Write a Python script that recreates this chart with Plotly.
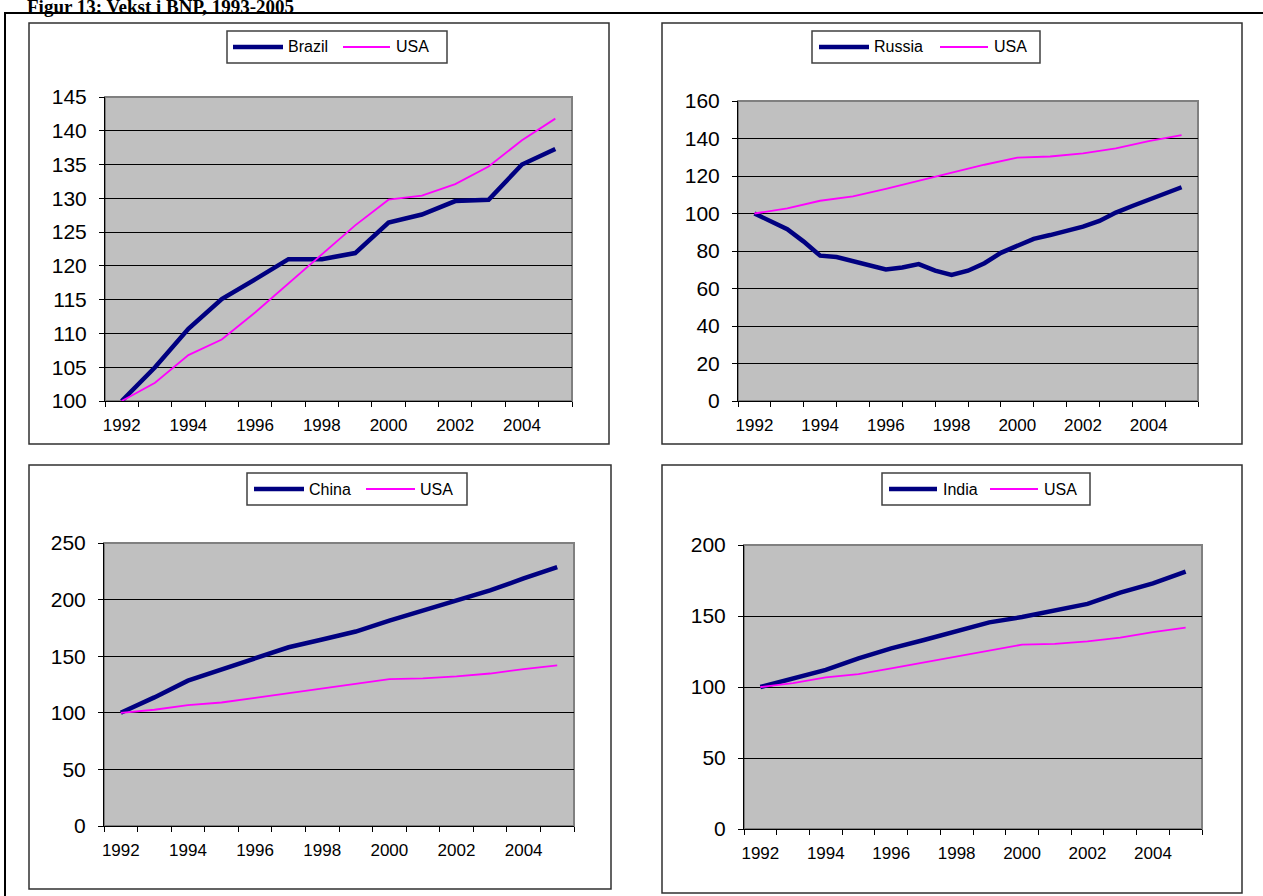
import plotly.graph_objects as go

# ---- data -------------------------------------------------------------
years = [1992, 1993, 1994, 1995, 1996, 1997, 1998, 1999, 2000, 2001, 2002, 2003, 2004, 2005]

usa = [100, 102.7, 106.8, 109.1, 113.1, 117.4, 121.6, 126.0, 129.8, 130.4, 132.1, 134.7, 138.6, 141.8]
brazil = [100, 105.0, 110.7, 115.1, 118.0, 121.0, 121.0, 121.9, 126.4, 127.6, 129.6, 129.8, 135.0, 137.3]
china = [100, 113.6, 128.4, 138.4, 147.6, 157.9, 164.7, 171.8, 181.5, 190.4, 198.6, 208.1, 218.7, 228.7]
india = [100, 105.6, 112.0, 120.2, 127.2, 133.1, 139.5, 145.5, 149.3, 153.8, 158.5, 166.4, 173.0, 181.2]

# Russia is plotted half-yearly
russia_x = [1992, 1992.5, 1993, 1993.5, 1994, 1994.5, 1995, 1995.5, 1996, 1996.5,
            1997, 1997.5, 1998, 1998.5, 1999, 1999.5, 2000, 2000.5, 2001, 2001.5,
            2002, 2002.5, 2003, 2003.5, 2004, 2004.5, 2005]
russia = [100, 96.0, 91.6, 85.0, 77.5, 76.8, 74.7, 72.4, 70.2, 71.2,
          73.0, 69.5, 67.2, 69.5, 73.5, 79.0, 83.0, 86.5, 88.5, 90.5,
          93.0, 96.0, 100.5, 104.0, 107.5, 111.0, 114.0]

year_labels = ["1992", "1994", "1996", "1998", "2000", "2002", "2004"]
label_years = [1992, 1994, 1996, 1998, 2000, 2002, 2004]

panels = [
    # name, x, values, y-range, y-step
    ("Brazil", years, brazil, (100, 145), 5),
    ("Russia", russia_x, russia, (0, 160), 20),
    ("China", years, china, (0, 250), 50),
    ("India", years, india, (0, 200), 50),
]

# ---- page geometry (pixels from the top-left corner) ---------------------
W, H = 1263, 896
frames = [(29, 23, 609, 444), (662, 23, 1242, 444), (29, 465, 611, 889), (662, 465, 1242, 893)]
plots = [(105, 97, 572, 401), (738, 101, 1198, 401), (104, 543, 574, 826), (744, 545, 1202, 829)]
# legend box and the x positions of its two entries (sample start, sample end, text start)
legend_boxes = [(227, 31, 447, 63), (812, 31, 1040, 63), (247, 473, 467, 505), (882, 473, 1090, 505)]
legend_entries = [
    ((233, 283, 286), (343, 390, 394)),
    ((819, 869, 872), (940, 988, 992)),
    ((254, 304, 307), (366, 415, 418)),
    ((889, 937, 941), (990, 1038, 1042)),
]

NAVY = "#000080"
MAGENTA = "#FF00FF"
FONT = "Liberation Sans, Arial, sans-serif"


def px(x):
    return x / W


def py(y):
    return 1 - y / H


fig = go.Figure()
shapes = []
annotations = []
layout = {}

for i, (name, xs, vals, yr, ystep) in enumerate(panels):
    n = "" if i == 0 else str(i + 1)
    fig.add_trace(go.Scatter(x=xs, y=vals, mode="lines", name=name,
                             line=dict(color=NAVY, width=4.5),
                             xaxis="x" + n, yaxis="y" + n))
    fig.add_trace(go.Scatter(x=years, y=usa, mode="lines", name="USA",
                             line=dict(color=MAGENTA, width=1.8),
                             xaxis="x" + n, yaxis="y" + n))

    x0, y0, x1, y1 = plots[i]
    layout["xaxis" + n] = dict(
        domain=[px(x0), px(x1)], anchor="y" + n, range=[1991.5, 2005.5],
        tickmode="array", tickvals=label_years, ticktext=year_labels,
        ticks="outside", ticklen=0, ticklabelstandoff=9,
        showgrid=False, zeroline=False, automargin=False,
        showline=True, linecolor="black", linewidth=1,
        tickfont=dict(family=FONT, size=17, color="black"),
        minor=dict(tick0=1991.5, dtick=1, ticks="outside", ticklen=5,
                   tickcolor="black", showgrid=False),
        fixedrange=True,
    )
    layout["yaxis" + n] = dict(
        domain=[py(y1), py(y0)], anchor="x" + n, range=list(yr),
        dtick=ystep, tick0=0, ticks="outside", ticklen=5, tickcolor="black",
        ticklabelstandoff=8,
        showgrid=True, gridcolor="black", gridwidth=1, zeroline=False,
        showline=True, linecolor="black", linewidth=1, automargin=False,
        tickfont=dict(family=FONT, size=21, color="black"),
        fixedrange=True,
    )
    # plot-area border (grey on the open sides)
    shapes.append(dict(type="rect", xref="x" + n + " domain", yref="y" + n + " domain",
                       x0=0, x1=1, y0=0, y1=1, line=dict(color="#808080", width=2),
                       layer="below"))
    # chart frame
    fx0, fy0, fx1, fy1 = frames[i]
    shapes.append(dict(type="rect", xref="paper", yref="paper",
                       x0=px(fx0), x1=px(fx1), y0=py(fy1), y1=py(fy0),
                       line=dict(color="#303030", width=1.5)))

    # legend: boxed, one row
    bx0, by0, bx1, by1 = legend_boxes[i]
    shapes.append(dict(type="rect", xref="paper", yref="paper",
                       x0=px(bx0), x1=px(bx1), y0=py(by1), y1=py(by0),
                       fillcolor="white", line=dict(color="#404040", width=1.5)))
    ymid = (by0 + by1) / 2
    for (sx0, sx1, tx), label, color, width in zip(
            legend_entries[i], (name, "USA"), (NAVY, MAGENTA), (4.5, 2)):
        shapes.append(dict(type="line", xref="paper", yref="paper",
                           x0=px(sx0), x1=px(sx1), y0=py(ymid), y1=py(ymid),
                           line=dict(color=color, width=width)))
        annotations.append(dict(text=label, xref="paper", yref="paper",
                                x=px(tx), y=py(ymid), xanchor="left", yanchor="middle",
                                showarrow=False,
                                font=dict(family=FONT, size=16, color="black")))

# outer page rule
shapes.append(dict(type="line", xref="paper", yref="paper", x0=px(4), x1=1,
                   y0=py(13), y1=py(13), line=dict(color="black", width=2)))
shapes.append(dict(type="line", xref="paper", yref="paper", x0=px(5), x1=px(5),
                   y0=0, y1=py(12), line=dict(color="black", width=2)))

# figure caption, running off the top of the page
annotations.append(dict(text="<b>Figur 13: Vekst i BNP, 1993-2005</b>", xref="paper", yref="paper",
                        x=px(25), y=1, xanchor="left", yanchor="top", yshift=6,
                        showarrow=False,
                        font=dict(family="Liberation Serif, Times New Roman, serif", size=19,
                                  color="black")))

fig.update_layout(
    width=W, height=H, margin=dict(l=0, r=0, t=0, b=0, autoexpand=False),
    paper_bgcolor="white", plot_bgcolor="#C0C0C0",
    shapes=shapes, annotations=annotations, showlegend=False,
    **layout,
)

fig.write_html("out.html")
